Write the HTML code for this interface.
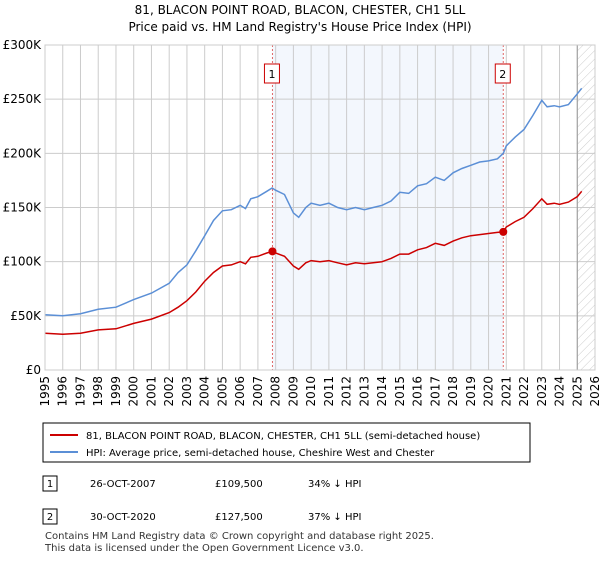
<!DOCTYPE html>
<html><head><meta charset="utf-8"><style>
body{margin:0;background:#fff;font-family:"Liberation Sans","DejaVu Sans",sans-serif;}
</style></head><body>
<svg width="600" height="560" xmlns="http://www.w3.org/2000/svg" font-family="DejaVu Sans, Liberation Sans, sans-serif">
<text x="300" y="14" font-size="12" text-anchor="middle">81, BLACON POINT ROAD, BLACON, CHESTER, CH1 5LL</text>
<text x="300" y="31" font-size="12" text-anchor="middle">Price paid vs. HM Land Registry's House Price Index (HPI)</text>
<defs><pattern id="hatch" width="6" height="6" patternUnits="userSpaceOnUse" patternTransform="rotate(45)"><line x1="0" y1="0" x2="0" y2="6" stroke="#ccc" stroke-width="1"/></pattern></defs>
<g id="plot"></g>
<g id="legend">
<rect x="43" y="423" width="487" height="39" fill="#fff" stroke="#000" stroke-width="1"/>
<line x1="50" y1="435" x2="78" y2="435" stroke="#cc0000" stroke-width="2"/>
<text x="86" y="439" font-size="10">81, BLACON POINT ROAD, BLACON, CHESTER, CH1 5LL (semi-detached house)</text>
<line x1="50" y1="452" x2="78" y2="452" stroke="#5b8fd6" stroke-width="2"/>
<text x="86" y="456" font-size="10">HPI: Average price, semi-detached house, Cheshire West and Chester</text>
</g>
<g font-size="10">
<rect x="43" y="476" width="14" height="15" fill="#fff" stroke="#000"/><text x="50" y="487" text-anchor="middle">1</text>
<text x="90" y="487">26-OCT-2007</text><text x="215" y="487">£109,500</text><text x="308" y="487">34% ↓ HPI</text>
<rect x="43" y="509" width="14" height="15" fill="#fff" stroke="#000"/><text x="50" y="520" text-anchor="middle">2</text>
<text x="90" y="520">30-OCT-2020</text><text x="215" y="520">£127,500</text><text x="308" y="520">37% ↓ HPI</text>
</g>
<text x="45" y="539" font-size="10" fill="#333">Contains HM Land Registry data © Crown copyright and database right 2025.</text>
<text x="45" y="551" font-size="10" fill="#333">This data is licensed under the Open Government Licence v3.0.</text>
</svg>
<script>
const yTicks=[0,50,100,150,200,250,300];
const yLabels=["£0","£50K","£100K","£150K","£200K","£250K","£300K"];
const xYears=[1995,1996,1997,1998,1999,2000,2001,2002,2003,2004,2005,2006,2007,2008,2009,2010,2011,2012,2013,2014,2015,2016,2017,2018,2019,2020,2021,2022,2023,2024,2025,2026];
const hpiT=[1995,1996,1997,1998,1999,2000,2001,2002,2002.5,2003,2003.5,2004,2004.5,2005,2005.5,2006,2006.3,2006.6,2007,2007.5,2007.8,2008,2008.5,2009,2009.3,2009.7,2010,2010.5,2011,2011.5,2012,2012.5,2013,2013.5,2014,2014.5,2015,2015.5,2016,2016.5,2017,2017.5,2018,2018.5,2019,2019.5,2020,2020.5,2020.83,2021,2021.5,2022,2022.5,2023,2023.3,2023.7,2024,2024.5,2025,2025.25];
const hpiV=[51,50,52,56,58,65,71,80,90,97,110,124,138,147,148,152,149,158,160,165,168,166,162,145,141,150,154,152,154,150,148,150,148,150,152,156,164,163,170,172,178,175,182,186,189,192,193,195,200,207,215,222,235,249,243,244,243,245,255,260];
const redT=[1995,1996,1997,1998,1999,2000,2001,2002,2002.5,2003,2003.5,2004,2004.5,2005,2005.5,2006,2006.3,2006.6,2007,2007.5,2007.82,2008,2008.5,2009,2009.3,2009.7,2010,2010.5,2011,2011.5,2012,2012.5,2013,2013.5,2014,2014.5,2015,2015.5,2016,2016.5,2017,2017.5,2018,2018.5,2019,2019.5,2020,2020.5,2020.83,2021,2021.5,2022,2022.5,2023,2023.3,2023.7,2024,2024.5,2025,2025.25];
const redV=[34,33,34,37,38,43,47,53,58,64,72,82,90,96,97,100,98,104,105,108,109.5,108,105,96,93,99,101,100,101,99,97,99,98,99,100,103,107,107,111,113,117,115,119,122,124,125,126,127,127.5,132,137,141,149,158,153,154,153,155,160,165];
const saleT=[2007.82,2020.83];
const saleV=[109.5,127.5];
const saleLabels=["1","2"];
const L=45,R=595,T=45,B=370;
const x=t=>L+(t-1995)*(R-L)/31;
const y=v=>B-v*(B-T)/300;
const NS="http://www.w3.org/2000/svg";
const g=document.getElementById('plot');
function el(tag,attrs){const e=document.createElementNS(NS,tag);for(const k in attrs)e.setAttribute(k,attrs[k]);g.appendChild(e);return e;}
let e=el('rect',{x:x(saleT[0]),y:T,width:x(saleT[1])-x(saleT[0]),height:B-T,fill:'#eef3fc',opacity:0.7});

e=el('rect',{x:x(2025),y:T,width:R-x(2025),height:B-T,fill:'url(#hatch)'});

xYears.forEach(t=>{const l=el('line',{x1:x(t),x2:x(t),y1:T,y2:B,stroke:'#ccc','stroke-width':1});

const tx=el('text',{x:0,y:0,'font-size':12,'text-anchor':'end',transform:`translate(${x(t)+4},${B+6}) rotate(-90)`});tx.textContent=t;
});
yTicks.forEach((v,i)=>{const l=el('line',{x1:L,x2:R,y1:y(v),y2:y(v),stroke:'#ccc','stroke-width':1});

const tx=el('text',{x:L-4,y:y(v)+4,'font-size':12,'text-anchor':'end'});tx.textContent=yLabels[i];
});
e=el('line',{x1:x(2025),x2:x(2025),y1:T,y2:B,stroke:'#999','stroke-width':1});

saleT.forEach((t,i)=>{const l=el('line',{x1:x(t),x2:x(t),y1:T,y2:B,stroke:'#e06666','stroke-width':1,'stroke-dasharray':'2,2'});
});
const path=(ts,vs)=>ts.map((t,i)=>(i?'L':'M')+x(t).toFixed(1)+','+y(vs[i]).toFixed(1)).join('');
e=el('path',{d:path(hpiT,hpiV),fill:'none',stroke:'#5b8fd6','stroke-width':1.5});

e=el('path',{d:path(redT,redV),fill:'none',stroke:'#cc0000','stroke-width':1.5});

saleT.forEach((t,i)=>{const c=el('circle',{cx:x(t),cy:y(saleV[i]),r:4,fill:'#cc0000'});

const r=el('rect',{x:x(t)-8,y:64,width:15,height:19,fill:'#fff',stroke:'#cc0000'});

const tx=el('text',{x:x(t)-0.5,y:78,'font-size':11,'text-anchor':'middle'});tx.textContent=saleLabels[i];
});
e=el('rect',{x:L,y:T,width:R-L,height:B-T,fill:'none',stroke:'#ccc'});

</script>
</body></html>
